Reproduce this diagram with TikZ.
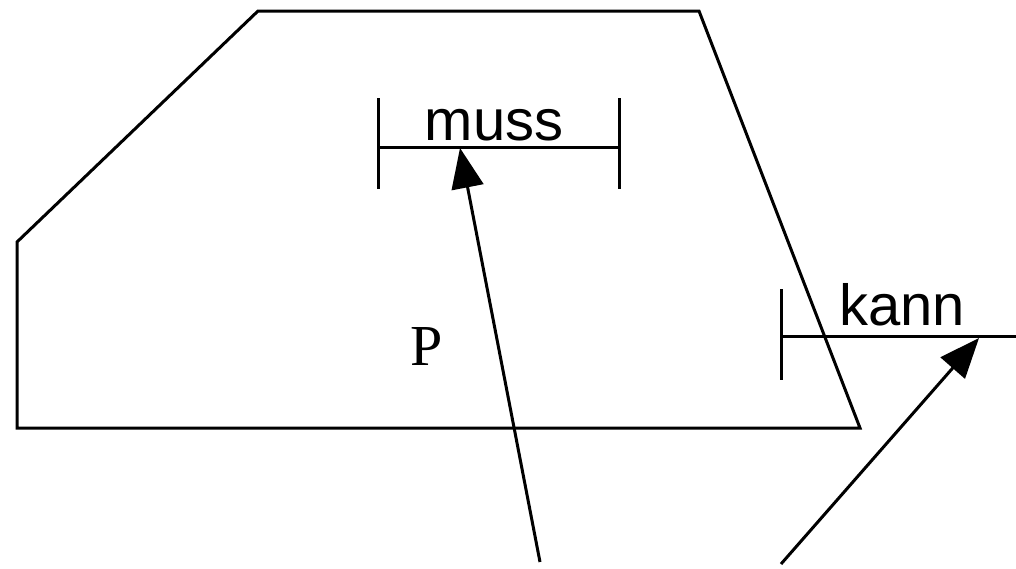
\documentclass[tikz,border=0pt]{standalone}
\usepackage{fontspec}
\setmainfont{Liberation Sans}
\newfontfamily\seriffam{Liberation Serif}
\usetikzlibrary{arrows.meta}
\begin{document}
\begin{tikzpicture}[x=0.75pt,y=-0.75pt,
  ln/.style={line width=2.25pt},
  lbl/.style={inner sep=0pt,anchor=base,font=\fontsize{43.5}{52}\selectfont},
  ptr/.style={line width=2.25pt,-{Triangle[length=30pt,width=24pt]}}]
\useasboundingbox (0,0) rectangle (1016,568);
% polygon
\coordinate (c1) at (17,242);
\coordinate (c2) at (258,11);
\coordinate (c3) at (699,11);
\coordinate (c4) at (860,428);
\coordinate (c5) at (17,428);
\draw[ln,line join=miter] (c1) -- (c2) -- (c3) -- (c4) -- (c5) -- cycle;
% muss interval
\coordinate (mL) at (378,147);
\coordinate (mR) at (619,147);
\coordinate (mLt) at (378,98);
\coordinate (mLb) at (378,189);
\coordinate (mRt) at (619,98);
\coordinate (mRb) at (619,189);
\draw[ln] (mLt) -- (mLb);
\draw[ln] (mRt) -- (mRb);
\draw[ln] (mL) -- (mR);
\node[lbl] (muss) at (494,140) {muss};
% kann interval
\coordinate (kL) at (781,336);
\coordinate (kR) at (1016,336);
\coordinate (kLt) at (781,289);
\coordinate (kLb) at (781,380);
\draw[ln] (kLt) -- (kLb);
\draw[ln] (kL) -- (kR);
\node[lbl] (kann) at (902,325) {kann};
% P
\node[inner sep=0pt,anchor=base,font=\seriffam\fontsize{43.5}{52}\selectfont] (P) at (427,365) {P};
% arrows
\coordinate (a1s) at (540,562);
\coordinate (a1e) at (460,148);
\coordinate (a2s) at (781,564);
\coordinate (a2e) at (979,338);
\draw[ptr] (a1s) -- (a1e);
\draw[ptr] (a2s) -- (a2e);
\end{tikzpicture}
\end{document}
